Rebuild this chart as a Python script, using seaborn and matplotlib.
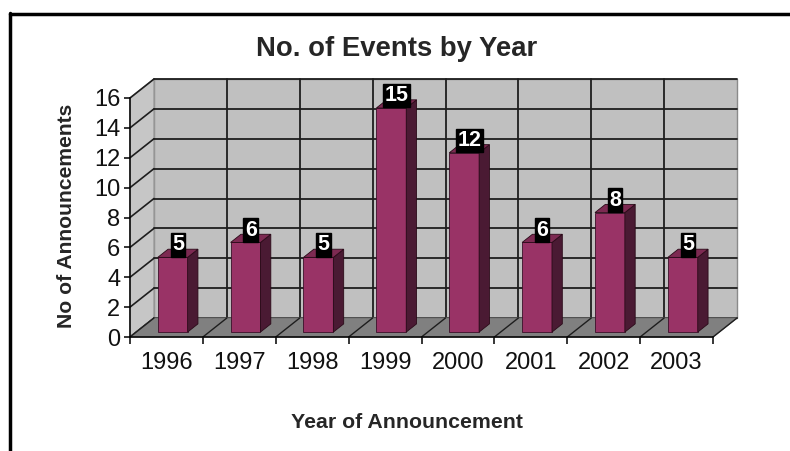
import matplotlib
matplotlib.use("Agg")
import matplotlib.pyplot as plt
import seaborn as sns
import pandas as pd
from matplotlib.patches import Polygon
from matplotlib.lines import Line2D

# ---- data ----
years = ["1996", "1997", "1998", "1999", "2000", "2001", "2002", "2003"]
counts = [5, 6, 5, 15, 12, 6, 8, 5]
y_ticks = [0, 2, 4, 6, 8, 10, 12, 14, 16]
title = "No. of Events by Year"
x_title = "Year of Announcement"
y_title = "No of Announcements"

sns.set_theme(style="white")
plt.rcParams["font.family"] = ["Liberation Sans", "DejaVu Sans"]

W, H = 790, 451
fig = plt.figure(figsize=(W / 100, H / 100), dpi=100)
fig.patch.set_facecolor("white")

# front plane of the 3-D box
x0, x1 = 130, 713
yb, yt = 337, 98
ax = fig.add_axes([x0 / W, (H - yb) / H, (x1 - x0) / W, (yb - yt) / H])
ax.patch.set_visible(False)
n = len(years)
ymax = y_ticks[-1]
ax.set_xlim(-0.5, n - 0.5)
ax.set_ylim(0, ymax)

# depth offsets in data units
DX = 24 / ((x1 - x0) / n)
DY = 19 / ((yb - yt) / ymax)
d0, dd = 0.26, 0.43

wall_c = "#c0c0c0"
side_wall_c = "#c6c6c6"
floor_c = "#808080"
grid_c = "#1e1e1e"

L, R = -0.5, n - 0.5
# back wall
ax.add_patch(Polygon([(L + DX, DY), (R + DX, DY), (R + DX, ymax + DY), (L + DX, ymax + DY)],
                     closed=True, fc=wall_c, ec="#8a8a8a", lw=1, clip_on=False, zorder=0))
# left wall
ax.add_patch(Polygon([(L, 0), (L + DX, DY), (L + DX, ymax + DY), (L, ymax)],
                     closed=True, fc=side_wall_c, ec="#9a9a9a", lw=1, clip_on=False, zorder=0))
# gridlines
for v in y_ticks:
    ax.add_line(Line2D([L + DX, R + DX], [v + DY, v + DY], color=grid_c, lw=1.3, clip_on=False, zorder=1))
    ax.add_line(Line2D([L, L + DX], [v, v + DY], color=grid_c, lw=1.2, clip_on=False, zorder=1))
for k in range(1, n):
    ax.add_line(Line2D([k - 0.5 + DX, k - 0.5 + DX], [DY, ymax + DY], color=grid_c, lw=1.3,
                       clip_on=False, zorder=1))
# floor
ax.add_patch(Polygon([(L, 0), (R, 0), (R + DX, DY), (L + DX, DY)],
                     closed=True, fc=floor_c, ec="#707070", lw=0.8, clip_on=False, zorder=1.5))
for k in range(0, n + 1):
    ax.add_line(Line2D([k - 0.5, k - 0.5 + DX], [0, DY], color=grid_c, lw=1.0, clip_on=False, zorder=1.6))

# bars (front faces) via seaborn
df = pd.DataFrame({"year": years, "count": counts})
front_c = "#993366"
top_c = "#7d2a52"
side_c = "#4a1a33"
sns.barplot(data=df, x="year", y="count", color=front_c, saturation=1, width=0.41,
            edgecolor="#3a1028", linewidth=0.6, ax=ax, zorder=3)

bars = list(ax.containers[0])
for p, v in zip(bars, counts):
    w = p.get_width()
    p.set_x(p.get_x() + d0 * DX)
    p.set_y(d0 * DY)
    p.set_clip_on(False)
    xa, xb = p.get_x(), p.get_x() + w
    yl, yh = d0 * DY, d0 * DY + v
    ddx, ddy = dd * DX, dd * DY
    ax.add_patch(Polygon([(xb, yl), (xb + ddx, yl + ddy), (xb + ddx, yh + ddy), (xb, yh)],
                         closed=True, fc=side_c, ec="#2a0a18", lw=0.6, clip_on=False, zorder=3))
    ax.add_patch(Polygon([(xa, yh), (xb, yh), (xb + ddx, yh + ddy), (xa + ddx, yh + ddy)],
                         closed=True, fc=top_c, ec="#2a0a18", lw=0.6, clip_on=False, zorder=3))
    ax.annotate(str(v), xy=((xa + xb) / 2 + ddx / 2, yh + ddy / 2), xytext=(0, 6),
                textcoords="offset points", ha="center", va="center", color="white",
                fontsize=15.5, fontweight="bold", zorder=6, annotation_clip=False,
                bbox=dict(boxstyle="square,pad=0.06", fc="black", ec="black"))

# axes styling
for s in ["top", "right"]:
    ax.spines[s].set_visible(False)
ax.spines["left"].set_color("black")
ax.spines["bottom"].set_color("black")
ax.spines["left"].set_linewidth(1.1)
ax.spines["bottom"].set_linewidth(1.1)
ax.spines["left"].set_zorder(4)
ax.spines["bottom"].set_zorder(4)
ax.set_yticks(y_ticks)
ax.set_yticklabels([str(t) for t in y_ticks], fontsize=17, color="#111111")
ax.set_xticks(range(n))
ax.set_xticklabels(years, fontsize=17, color="#111111")
ax.set_xticks([k - 0.5 for k in range(n + 1)], minor=True)
ax.tick_params(axis="y", which="major", direction="out", length=4, width=1.1, color="black", pad=3, left=True)
ax.tick_params(axis="x", which="major", length=0, pad=11)
ax.tick_params(axis="x", which="minor", direction="out", length=5, width=1.1, color="black", bottom=True)
ax.set_xlabel("")
ax.set_ylabel("")
ax.grid(False)

# titles
fig.text(397 / W, 1 - 56 / H, title, ha="center", va="baseline", fontsize=19.8, fontweight="bold")
fig.text(407 / W, 1 - 428 / H, x_title, ha="center", va="baseline", fontsize=15.3, fontweight="bold")
fig.text(66 / W, 1 - 216 / H, y_title, ha="center", va="center", rotation=90, fontsize=15.2,
         fontweight="bold")

# outer frame (top and left edges)
fig.add_artist(Line2D([9.5 / W, 1.0], [1 - 14 / H, 1 - 14 / H], color="black", lw=2.5,
                      transform=fig.transFigure))
fig.add_artist(Line2D([10 / W, 10 / W], [0, 1 - 13 / H], color="black", lw=2.5,
                      transform=fig.transFigure))

fig.savefig("out.png", dpi=100)
